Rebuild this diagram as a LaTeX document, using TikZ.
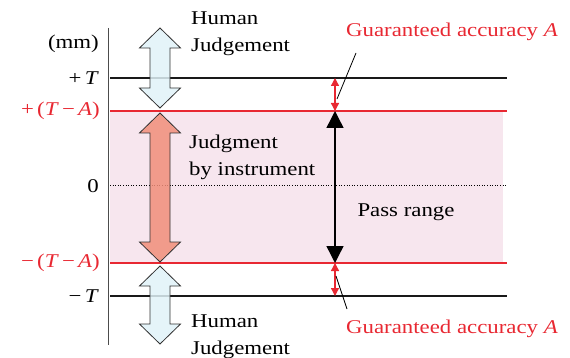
\documentclass[tikz,border=0pt]{standalone}
\usepackage{fontspec}
\setmainfont{Liberation Serif}[FakeStretch=1.17]
\usetikzlibrary{arrows.meta}
\definecolor{accred}{RGB}{232,40,50}
\definecolor{passpink}{RGB}{247,230,238}
\definecolor{humanblue}{RGB}{224,242,248}
\definecolor{instrred}{RGB}{240,142,122}
\definecolor{outline}{RGB}{50,50,50}
\tikzset{
  lbl/.style={font=\fontsize{19.5}{27}\selectfont, inner sep=0pt},
  ax/.style={lbl, anchor=east},
  limitline/.style={line width=1.8pt, black!90},
  accline/.style={line width=1.5pt, accred},
  passarrow/.style={line width=1.4pt, {Triangle[length=17pt,width=17pt]}-{Triangle[length=17pt,width=17pt]}},
  accarrow/.style={line width=1.3pt, accred, {Triangle[length=8pt,width=8pt]}-{Triangle[length=8pt,width=8pt]}},
  leader/.style={line width=0.8pt, black}
}
% double-headed block arrow: centre x, top tip y, bottom tip y, fill colour
\newcommand{\blockarrow}[4]{%
  \fill[#4, fill opacity=0.85] (#1,#2) -- (#1+20.5,#2+20) -- (#1+10,#2+20) -- (#1+10,#3-20)
    -- (#1+20.5,#3-20) -- (#1,#3) -- (#1-20.5,#3-20) -- (#1-10,#3-20) -- (#1-10,#2+20)
    -- (#1-20.5,#2+20) -- cycle;
  \draw[draw=outline, line width=0.8pt] (#1,#2) -- (#1+20.5,#2+20) -- (#1+10,#2+20) -- (#1+10,#3-20)
    -- (#1+20.5,#3-20) -- (#1,#3) -- (#1-20.5,#3-20) -- (#1-10,#3-20) -- (#1-10,#2+20)
    -- (#1-20.5,#2+20) -- cycle;}
\begin{document}
\begin{tikzpicture}[x=1pt, y=-1pt]
\useasboundingbox (0,0) rectangle (570,358);

% pass band
\fill[passpink] (110,111) rectangle (503,263);

% axis
\draw[line width=0.9pt, black!70] (108,28) -- (108,345);

% level lines
\coordinate (pT) at (335,78);
\coordinate (pTA) at (335,111);
\coordinate (mTA) at (335,263);
\coordinate (mT) at (335,296);
\draw[limitline] (110,78) -- (507,78);
\draw[limitline] (110,296) -- (507,296);
\draw[accline] (110,111) -- (507,111);
\draw[accline] (110,263) -- (507,263);
\draw[line width=0.6pt, dotted] (110,185) -- (507,185);

% axis labels
\node[ax] (mm) at (99,44) {(mm)};
\node[ax] (lpT) at (99,78) {+\,\textit{T}};
\node[ax, accred] (lpTA) at (100,111) {+\,(\textit{T}\,−\,\textit{A})};
\node[ax] (lz) at (99,186) {0};
\node[ax, accred] (lmTA) at (100,263) {−\,(\textit{T}\,−\,\textit{A})};
\node[ax] (lmT) at (99,296) {−\,\textit{T}};

% block arrows
\blockarrow{160}{28}{108}{humanblue}
\blockarrow{160}{113}{262}{instrred}
\blockarrow{160}{266}{344}{humanblue}

% block arrow captions
\node[lbl, anchor=west, align=left] (human1) at (191,34) {Human\\Judgement};
\node[lbl, anchor=west, align=left] (instr) at (189,157) {Judgment\\by instrument};
\node[lbl, anchor=west, align=left] (human2) at (191,337) {Human\\Judgement};

% pass range
\draw[passarrow] (pTA) -- (mTA);
\node[lbl] (pass) at (406,212) {Pass range};

% guaranteed accuracy
\draw[accarrow] (pT) -- (pTA);
\draw[accarrow] (mTA) -- (mT);
\node[lbl, accred, anchor=west] (acc1) at (346,32) {Guaranteed accuracy \textit{A}};
\node[lbl, accred, anchor=west] (acc2) at (346,329) {Guaranteed accuracy \textit{A}};
\coordinate (lead1a) at (356,53);
\coordinate (lead1b) at (337,99);
\coordinate (lead2a) at (336,276);
\coordinate (lead2b) at (347,309);
\draw[leader] (lead1a) -- (lead1b);
\draw[leader] (lead2a) -- (lead2b);
\end{tikzpicture}
\end{document}
